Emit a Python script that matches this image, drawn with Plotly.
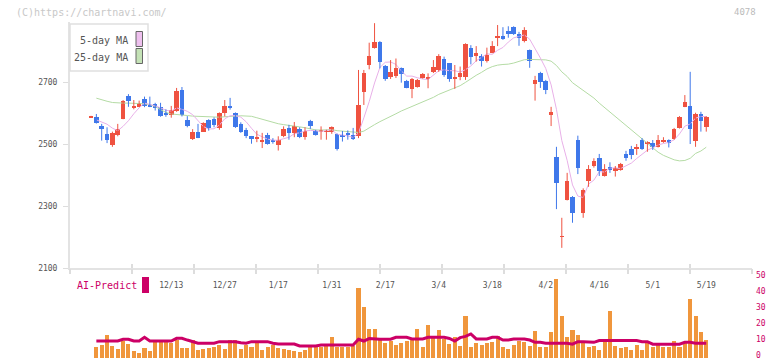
import plotly.graph_objects as go
import pandas as pd

W, H = 772, 361

# ---------------- data ----------------
opens = [2588, 2588, 2560, 2533, 2498, 2531, 2583, 2657, 2620, 2622,
         2646, 2628, 2630, 2622, 2600, 2596, 2607, 2676, 2579, 2518,
         2541, 2541, 2579, 2581, 2553, 2601, 2623, 2601, 2566, 2547,
         2526, 2518, 2508, 2531, 2515, 2499, 2528, 2553, 2537, 2550,
         2524, 2576, 2542, 2542, 2540, 2539, 2533, 2530, 2537, 2530,
         2528, 2669, 2756, 2812, 2831, 2753, 2718, 2721, 2747, 2704,
         2679, 2686, 2715, 2710, 2734, 2740, 2775, 2761, 2711, 2718,
         2718, 2810, 2785, 2785, 2770, 2796, 2844, 2849, 2867, 2878,
         2856, 2834, 2804, 2695, 2731, 2705, 2595, 2460, 2201, 2320,
         2331, 2514, 2279, 2383, 2430, 2455, 2398, 2428, 2415, 2417,
         2469, 2485, 2485, 2514, 2500, 2505, 2492, 2507, 2514, 2518,
         2554, 2622, 2624, 2512, 2598, 2557]
highs = [2592, 2598, 2566, 2555, 2541, 2566, 2643, 2662, 2643, 2641,
         2654, 2654, 2634, 2634, 2613, 2624, 2682, 2685, 2591, 2549,
         2566, 2571, 2581, 2587, 2603, 2643, 2650, 2603, 2571, 2553,
         2527, 2544, 2537, 2537, 2520, 2526, 2558, 2563, 2572, 2555,
         2555, 2579, 2547, 2558, 2547, 2558, 2535, 2543, 2545, 2553,
         2740, 2740, 2828, 2891, 2833, 2756, 2772, 2777, 2748, 2708,
         2714, 2711, 2730, 2729, 2772, 2791, 2783, 2762, 2756, 2751,
         2826, 2820, 2817, 2791, 2812, 2833, 2885, 2878, 2881, 2881,
         2863, 2878, 2806, 2721, 2734, 2708, 2621, 2492, 2263, 2408,
         2333, 2528, 2358, 2433, 2455, 2469, 2436, 2442, 2430, 2440,
         2479, 2495, 2501, 2520, 2510, 2514, 2530, 2523, 2516, 2553,
         2591, 2659, 2734, 2602, 2605, 2591]
lows = [2587, 2567, 2512, 2504, 2492, 2526, 2581, 2621, 2613, 2620,
        2620, 2620, 2609, 2589, 2589, 2586, 2605, 2590, 2555, 2514,
        2520, 2540, 2544, 2555, 2547, 2590, 2612, 2553, 2537, 2520,
        2502, 2507, 2488, 2499, 2502, 2480, 2523, 2515, 2523, 2520,
        2515, 2550, 2528, 2515, 2515, 2534, 2480, 2509, 2515, 2514,
        2520, 2627, 2742, 2809, 2745, 2705, 2711, 2714, 2699, 2681,
        2649, 2683, 2712, 2681, 2730, 2734, 2718, 2702, 2679, 2707,
        2708, 2758, 2767, 2751, 2764, 2794, 2817, 2837, 2844, 2853,
        2818, 2829, 2747, 2641, 2682, 2662, 2559, 2291, 2166, 2319,
        2247, 2404, 2263, 2363, 2425, 2398, 2396, 2408, 2396, 2415,
        2447, 2452, 2466, 2482, 2476, 2482, 2490, 2505, 2490, 2515,
        2551, 2620, 2501, 2492, 2541, 2541]
closes = [2591, 2570, 2550, 2513, 2537, 2550, 2641, 2640, 2625, 2634,
          2625, 2622, 2616, 2592, 2595, 2611, 2673, 2594, 2560, 2541,
          2522, 2570, 2554, 2564, 2601, 2623, 2620, 2556, 2539, 2526,
          2518, 2524, 2515, 2501, 2510, 2515, 2550, 2537, 2560, 2524,
          2544, 2560, 2531, 2547, 2542, 2556, 2485, 2524, 2530, 2517,
          2627, 2729, 2786, 2831, 2767, 2711, 2734, 2747, 2726, 2683,
          2711, 2708, 2726, 2718, 2751, 2785, 2723, 2711, 2718, 2729,
          2824, 2783, 2794, 2770, 2788, 2817, 2849, 2839, 2857, 2856,
          2844, 2869, 2770, 2708, 2702, 2675, 2605, 2376, 2203, 2382,
          2279, 2425, 2353, 2420, 2446, 2415, 2419, 2417, 2423, 2436,
          2455, 2466, 2492, 2485, 2508, 2492, 2514, 2514, 2503, 2550,
          2588, 2638, 2549, 2598, 2576, 2588]
volume = [None, 6.7, 8.4, 14.6, 7.8, 5.9, 10.9, 9.0, 4.7, 3.4,
          6.5, 4.7, 10.1, 10.3, 11.5, 9.2, 11.5, 6.5, 6.5, 11.5,
          5.3, 5.7, 6.1, 7.0, 8.4, 5.9, 11.5, 11.5, 5.9, 8.4,
          7.0, 9.5, 4.9, 7.0, 8.4, 6.1, 5.7, 4.9, 4.5, 4.1,
          5.3, 6.7, 7.8, 6.7, 7.8, 13.2, 7.0, 7.0, 7.0, 7.4,
          43.9, 32.1, 18.4, 18.0, 11.5, 9.5, 10.9, 8.4, 9.5, 10.9,
          11.5, 18.4, 6.7, 20.9, 12.6, 17.8, 12.2, 9.0, 13.2, 7.8,
          26.5, 6.7, 9.5, 8.0, 9.5, 9.9, 14.0, 6.7, 5.7, 8.4,
          10.5, 9.9, 7.8, 17.1, 7.0, 7.0, 16.1, 49.6, 26.1, 13.0,
          17.3, 14.6, 9.9, 7.0, 7.8, 5.3, 10.5, 29.2, 7.8, 6.3,
          7.0, 4.9, 8.4, 5.3, 10.5, 6.7, 9.5, 6.7, 7.0, 10.5,
          6.7, 9.5, 36.9, 26.1, 16.1, 11.5]
ai_predict = [None, 10.9, 10.9, 10.9, 11.0, 10.9, 12.0, 12.0, 10.9, 10.9,
              13.2, 10.9, 10.9, 10.9, 10.9, 10.9, 12.6, 12.6, 11.5, 10.5,
              9.5, 9.5, 9.5, 9.5, 10.5, 10.5, 10.5, 10.5, 9.8, 9.5,
              10.5, 10.5, 10.5, 10.5, 9.5, 9.0, 9.0, 9.0, 9.0, 7.8,
              7.8, 7.8, 7.8, 8.4, 8.4, 8.4, 8.4, 8.4, 8.4, 8.4,
              12.0, 10.9, 12.4, 12.0, 12.0, 12.0, 12.0, 13.2, 13.2, 13.2,
              12.2, 12.2, 12.2, 13.2, 13.2, 13.2, 13.2, 12.5, 10.9, 13.0,
              13.8, 15.3, 12.2, 12.2, 12.2, 13.2, 13.2, 11.5, 11.5, 12.2,
              12.2, 12.2, 11.5, 10.1, 10.1, 9.5, 9.5, 9.5, 9.5, 9.5,
              8.9, 10.5, 10.5, 10.5, 10.1, 11.2, 11.2, 11.2, 11.2, 10.9,
              10.9, 10.9, 11.2, 10.5, 10.5, 8.9, 8.9, 8.9, 8.9, 8.9,
              8.9, 10.1, 10.1, 9.5, 9.5, 9.5]
# moving-average values before enough closes are on the chart
ma5_head = [None, 2579, 2572, 2565]
ma25_head = [None, 2649, 2643, 2639, 2635, 2633, 2633, 2633, 2633, 2632,
             2631, 2628, 2622, 2612, 2603, 2598, 2597, 2596, 2593, 2591,
             2590, 2590, 2589, 2588]
date_labels = ["12/13", "12/27", "1/17", "1/31", "2/17", "3/4",
               "3/18", "4/2", "4/16", "5/1", "5/19"]
date_index = [15, 25, 35, 45, 55, 65, 75, 85, 95, 105, 115]
price_ticks = [2100, 2300, 2500, 2700]
volume_ticks = [0, 10, 20, 30, 40, 50]

# ---------------- derived ----------------
n = len(closes)
idx = list(range(n))
cs = pd.Series(closes, dtype=float)
ma5 = list(ma5_head) + cs.rolling(5).mean().tolist()[len(ma5_head):]
ma25 = list(ma25_head) + cs.rolling(25).mean().tolist()[len(ma25_head):]

RED = "#ef5240"
BLUE = "#3f78ea"
FONT = "DejaVu Sans Mono"

def px(x):
    return x / W

def py(y):
    return 1 - y / H

fig = go.Figure()

# moving averages (behind candles)
fig.add_trace(go.Scatter(x=idx, y=ma25, mode="lines", line=dict(color="#b4dba4", width=1),
                         showlegend=False, hoverinfo="skip"))
fig.add_trace(go.Scatter(x=idx, y=ma5, mode="lines", line=dict(color="#e8b0e8", width=1),
                         showlegend=False, hoverinfo="skip"))

for up, color in ((True, RED), (False, BLUE)):
    sel = [i for i in idx if (closes[i] >= opens[i]) == up]
    wx, wy = [], []
    for i in sel:
        wx += [i, i, None]
        wy += [lows[i], highs[i], None]
    fig.add_trace(go.Scatter(x=wx, y=wy, mode="lines", line=dict(color=color, width=1),
                             showlegend=False, hoverinfo="skip"))
    fig.add_trace(go.Bar(x=sel,
                         base=[min(opens[i], closes[i]) for i in sel],
                         y=[max(abs(closes[i] - opens[i]), 2.5) for i in sel],
                         width=0.85, marker=dict(color=color, line=dict(width=0)),
                         showlegend=False, hoverinfo="skip"))

# volume + AI-Predict
fig.add_trace(go.Bar(x=idx, y=volume, yaxis="y2", width=0.75,
                     marker=dict(color="#f0963c", line=dict(width=0)),
                     showlegend=False, hoverinfo="skip"))
fig.add_trace(go.Scatter(x=idx, y=ai_predict, yaxis="y2", mode="lines",
                         line=dict(color="#cc0066", width=3),
                         showlegend=False, hoverinfo="skip"))

# dummy traces to attach the tick-mark axes
fig.add_trace(go.Scatter(x=[None], y=[None], xaxis="x3", showlegend=False, hoverinfo="skip"))
fig.add_trace(go.Scatter(x=[None], y=[None], xaxis="x4", showlegend=False, hoverinfo="skip"))

dom_x = [px(70), px(752)]
xr = [(70 - 91) / 5.35, (752 - 91) / 5.35]
y_top_px, y_bot_px = 22, 268.3
p_top = 2100 + (y_bot_px - y_top_px) / 0.3099

fig.update_layout(
    width=W, height=H,
    margin=dict(l=0, r=0, t=0, b=0, pad=0, autoexpand=False),
    paper_bgcolor="white", plot_bgcolor="white",
    barmode="overlay", bargap=0,
    showlegend=False,
    font=dict(family=FONT, color="#555"),
    xaxis=dict(domain=dom_x, range=xr, anchor="y", automargin=False,
               tickvals=date_index, ticktext=date_labels,
               ticks="", showgrid=False, zeroline=False,
               showline=True, linecolor="#e3e3e3", linewidth=2,
               tickfont=dict(family=FONT, size=8, color="#555"),
               ticklabelstandoff=8, fixedrange=True),
    xaxis3=dict(domain=dom_x, range=[0, 11], overlaying="x", anchor="y", automargin=False,
                tickvals=list(range(12)), ticks="outside", ticklen=5,
                tickcolor="#dddddd", tickwidth=2, showticklabels=False,
                showgrid=False, zeroline=False, showline=False),
    xaxis4=dict(domain=dom_x, range=[0, 11], overlaying="x", anchor="y", automargin=False,
                tickvals=list(range(12)), ticks="inside", ticklen=4,
                tickcolor="#dddddd", tickwidth=2, showticklabels=False,
                showgrid=False, zeroline=False, showline=False),
    yaxis=dict(domain=[py(y_bot_px), py(y_top_px)], range=[2100, p_top], automargin=False,
               tickvals=price_ticks, ticks="outside", ticklen=5,
               tickcolor="#dddddd", tickwidth=1,
               showline=True, linecolor="#e3e3e3", linewidth=2,
               showgrid=False, zeroline=False,
               tickfont=dict(family=FONT, size=8, color="#555"),
               ticklabelstandoff=4),
    yaxis2=dict(domain=[py(358.5), py(278.3)], range=[0, 50], anchor="x", automargin=False,
                side="right", tickvals=volume_ticks, ticks="",
                showline=False, showgrid=False, zeroline=False,
                tickfont=dict(family=FONT, size=8, color="#cc0066"),
                ticklabelstandoff=3, ticklabelshift=-3, ticklabeloverflow="allow"),
)

shapes = [
    # legend box
    dict(type="rect", xref="paper", yref="paper", x0=px(70), x1=px(148), y0=py(71), y1=py(24),
         line=dict(color="#e0e0e0", width=1.5), fillcolor="white", layer="above"),
    dict(type="rect", xref="paper", yref="paper", x0=px(136), x1=px(142.5), y0=py(46.5), y1=py(31.5),
         line=dict(color="#666", width=1), fillcolor="#eec0ee", layer="above"),
    dict(type="rect", xref="paper", yref="paper", x0=px(136), x1=px(142.5), y0=py(63.5), y1=py(48.5),
         line=dict(color="#666", width=1), fillcolor="#c4e2b6", layer="above"),
    # AI-Predict swatch
    dict(type="rect", xref="paper", yref="paper", x0=px(142), x1=px(149), y0=py(293), y1=py(277),
         line=dict(width=0), fillcolor="#cc0066", layer="above"),
]
annotations = [
    dict(text="(C)https://chartnavi.com/", xref="paper", yref="paper", x=px(14), y=py(12),
         xanchor="left", yanchor="middle", showarrow=False,
         font=dict(family=FONT, size=10, color="#c8c8c8")),
    dict(text="4078", xref="paper", yref="paper", x=px(758), y=py(12),
         xanchor="right", yanchor="middle", showarrow=False,
         font=dict(family=FONT, size=9, color="#bbbbbb")),
    dict(text="5-day MA", xref="paper", yref="paper", x=px(130), y=py(40),
         xanchor="right", yanchor="middle", showarrow=False,
         font=dict(family=FONT, size=10, color="#555")),
    dict(text="25-day MA", xref="paper", yref="paper", x=px(130), y=py(57),
         xanchor="right", yanchor="middle", showarrow=False,
         font=dict(family=FONT, size=10, color="#555")),
    dict(text="AI-Predict", xref="paper", yref="paper", x=px(75), y=py(285),
         xanchor="left", yanchor="middle", showarrow=False,
         font=dict(family=FONT, size=10, color="#cc0066")),
]
fig.update_layout(shapes=shapes, annotations=annotations)

fig.write_html("out.html", config={"displayModeBar": False},
               post_script="document.body.style.margin='0px';")
